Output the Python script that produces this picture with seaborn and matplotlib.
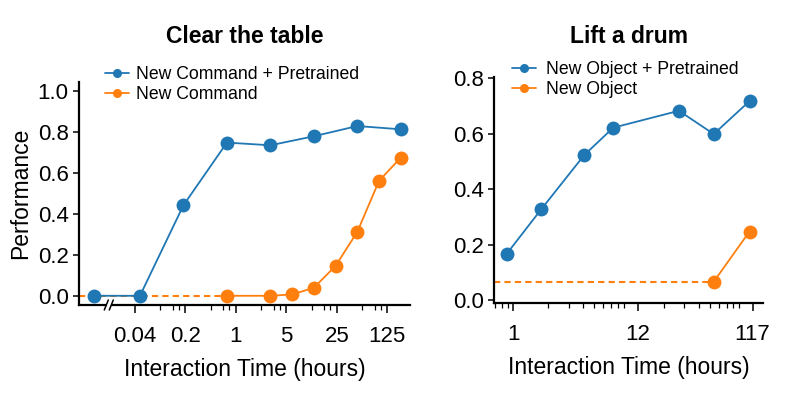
import numpy as np
import pandas as pd
import matplotlib
matplotlib.use("Agg")
import matplotlib.pyplot as plt
from matplotlib.ticker import FixedLocator, NullFormatter, LogLocator
import seaborn as sns

# ---------------- data ----------------
clear_pre_hours = [0, 0.046875, 0.1875, 0.75, 3, 12, 48, 192]
clear_pre_perf = [0.0, 0.0, 0.442, 0.748, 0.735, 0.779, 0.829, 0.813]
clear_new_hours = [0.75, 3, 6, 12, 24, 48, 96, 192]
clear_new_perf = [0.0, 0.0, 0.0065, 0.039, 0.146, 0.312, 0.561, 0.675]

drum_pre_hours = [0.875, 1.74, 4.1, 7.3, 27, 54, 110]
drum_pre_perf = [0.166, 0.327, 0.523, 0.622, 0.683, 0.599, 0.718]
drum_new_hours = [54, 110]
drum_new_perf = [0.066, 0.247]

clear_ticks = [0.04, 0.2, 1, 5, 25, 125]
clear_ticklabels = ["0.04", "0.2", "1", "5", "25", "125"]
drum_ticks = [1, 12, 117]
drum_ticklabels = ["1", "12", "117"]

BREAK_POS = 0.011  # where the "0 hours" point sits left of the axis break

BLUE = "#1f77b4"
ORANGE = "#ff7f0e"

sns.set_theme(style="ticks")
plt.rcParams["font.family"] = ["Liberation Sans", "DejaVu Sans"]
plt.rcParams["text.color"] = "black"
plt.rcParams["axes.labelcolor"] = "black"
plt.rcParams["xtick.color"] = "black"
plt.rcParams["ytick.color"] = "black"

fig = plt.figure(figsize=(7.96, 3.97), dpi=100)
ax1 = fig.add_axes([79 / 796, 1 - 305 / 397, 331 / 796, 223 / 397])
ax2 = fig.add_axes([494 / 796, 1 - 303.3 / 397, 269 / 796, 226.3 / 397])

def mapped(h):
    return [BREAK_POS if v == 0 else v for v in h]

df1a = pd.DataFrame({"x": mapped(clear_pre_hours), "y": clear_pre_perf})
df1b = pd.DataFrame({"x": clear_new_hours, "y": clear_new_perf})
df2a = pd.DataFrame({"x": drum_pre_hours, "y": drum_pre_perf})
df2b = pd.DataFrame({"x": drum_new_hours, "y": drum_new_perf})

line_kw = dict(marker="o", markersize=10, markeredgewidth=0, linewidth=1.3)

# left panel
ax1.set_xscale("log", base=5)
ax1.set_xlim(0.00671, 257.7)
ax1.set_ylim(-0.045, 1.044)
ax1.plot([0.00671, clear_new_hours[0]], [clear_new_perf[0]] * 2, ls="--",
         color=ORANGE, lw=1.5, dashes=(3, 2), zorder=1)
sns.lineplot(data=df1a, x="x", y="y", color=BLUE, label="New Command + Pretrained",
             ax=ax1, zorder=3, **line_kw)
sns.lineplot(data=df1b, x="x", y="y", color=ORANGE, label="New Command",
             ax=ax1, zorder=2, **line_kw)

# right panel
ax2.set_xscale("log", base=10)
ax2.set_xlim(0.681, 143.9)
ax2.set_ylim(-0.012, 0.805)
ax2.plot([0.681, drum_new_hours[0]], [drum_new_perf[0]] * 2, ls="--",
         color=ORANGE, lw=1.5, dashes=(3, 2), zorder=1)
sns.lineplot(data=df2a, x="x", y="y", color=BLUE, label="New Object + Pretrained",
             ax=ax2, zorder=3, **line_kw)
sns.lineplot(data=df2b, x="x", y="y", color=ORANGE, label="New Object",
             ax=ax2, zorder=2, **line_kw)

# ticks
ax1.xaxis.set_major_locator(FixedLocator(clear_ticks))
ax1.set_xticklabels(clear_ticklabels)
subs5 = (2.24, 3.34, 4.05)
ax1.xaxis.set_minor_locator(FixedLocator([m * 5.0 ** k for k in range(-2, 3) for m in subs5]))
ax1.xaxis.set_minor_formatter(NullFormatter())
ax1.set_yticks([0, 0.2, 0.4, 0.6, 0.8, 1.0])

ax2.xaxis.set_major_locator(FixedLocator(drum_ticks))
ax2.set_xticklabels(drum_ticklabels)
ax2.xaxis.set_minor_locator(LogLocator(base=10, subs=np.arange(2, 10), numticks=30))
ax2.xaxis.set_minor_formatter(NullFormatter())
ax2.set_yticks([0, 0.2, 0.4, 0.6, 0.8])

for ax in (ax1, ax2):
    sns.despine(ax=ax)
    for s in ("left", "bottom"):
        ax.spines[s].set_linewidth(1.6)
        ax.spines[s].set_color("black")
    ax.tick_params(axis="both", which="major", length=6, width=1.1, labelsize=16,
                   color="black", labelcolor="black")
    ax.tick_params(axis="x", which="major", pad=9)
    ax.tick_params(axis="x", which="minor", length=3.5, width=0.9, color="black")
    ax.tick_params(axis="y", which="major", length=4.5, pad=3)
    ax.set_xlabel("Interaction Time (hours)", fontsize=16.5, labelpad=8)
    ax.set_ylabel("")

ax1.set_ylabel("Performance", fontsize=16.5, labelpad=4)

# axis break marks
for x0 in (0.0764, 0.0915):
    ax1.plot([x0, x0 + 0.0121], [-0.0224, 0.0224], transform=ax1.transAxes,
             color="black", lw=1.1, clip_on=False, zorder=10)
ax1.plot([0.0845, 0.0955], [0, 0], transform=ax1.transAxes, color="white",
         lw=2.6, clip_on=False, zorder=9, solid_capstyle="butt")

# legends
for ax, x0, tpad in ((ax1, 0.0785, 0.37), (ax2, 0.066, 0.56)):
    leg = ax.legend(loc="upper left", bbox_to_anchor=(x0, 1.072), frameon=False,
                    fontsize=12.7, borderaxespad=0, borderpad=0, handlelength=1.37,
                    handletextpad=tpad, labelspacing=0.2)
    for h in leg.legend_handles:
        h.set_markersize(6.5)

# titles
fig.text((79 + 410) / 2 / 796, 1 - 43 / 397, "Clear the table", ha="center",
         va="baseline", fontsize=16.5, fontweight="bold")
fig.text((494 + 763) / 2 / 796, 1 - 43 / 397, "Lift a drum", ha="center",
         va="baseline", fontsize=16.5, fontweight="bold")

fig.savefig("out.png", dpi=100)
